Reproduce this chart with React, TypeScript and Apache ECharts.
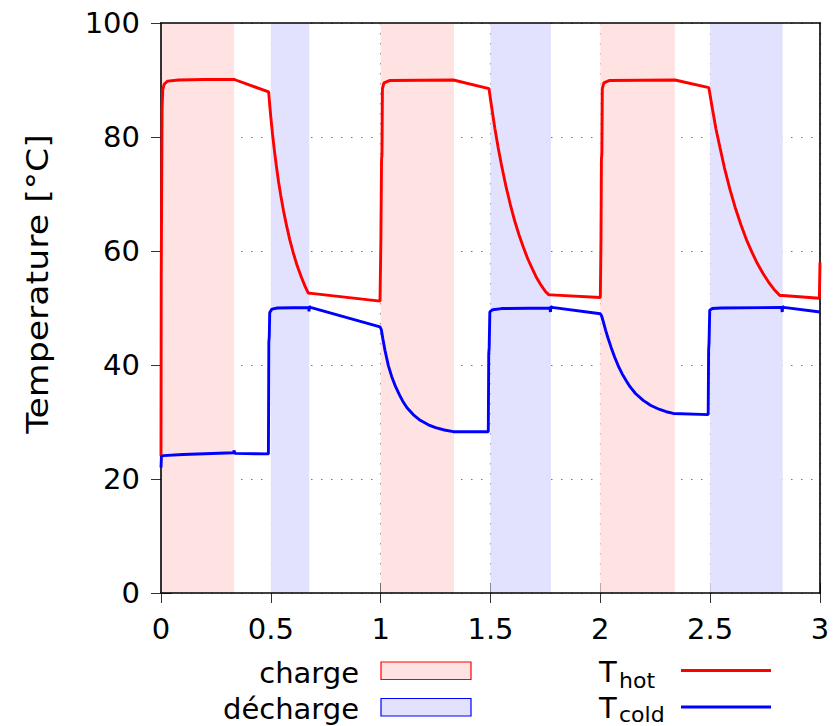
import React, { useEffect, useRef } from "react";
import * as echarts from "echarts";

// [time, temperature °C]
const hotPoints: [number, number][] = [
  [0, 24], [0.001, 55], [0.003, 70], [0.005, 85], [0.008, 88.3], [0.015, 89.3], [0.03, 89.8],
  [0.08, 90.0], [0.2, 90.1], [0.333, 90.1], [0.34, 90.0], [0.49, 87.9],
  [0.495, 85.6], [0.5, 83.5], [0.508, 80.4], [0.517, 77.4], [0.526, 74.7], [0.535, 72.2], [0.545, 69.8],
  [0.558, 67.0], [0.572, 64.4], [0.586, 62.0], [0.602, 59.7], [0.62, 57.4], [0.64, 55.3], [0.656, 53.8],
  [0.671, 52.55], [0.675, 52.6], [0.997, 51.2],
  [1.001, 62], [1.004, 76], [1.006, 77], [1.008, 88.5], [1.015, 89.5], [1.04, 89.9], [1.331, 90.0], [1.493, 88.5],
  [1.505, 85.3], [1.52, 81.5], [1.535, 78.1], [1.55, 75.1], [1.57, 71.4], [1.59, 68.2], [1.61, 65.3],
  [1.63, 62.8], [1.65, 60.6], [1.67, 58.6], [1.69, 56.9], [1.71, 55.3], [1.73, 54.0], [1.75, 52.9],
  [1.766, 52.3], [1.775, 52.3], [2.0, 51.85],
  [2.003, 62], [2.005, 76.2], [2.007, 77], [2.009, 88.5], [2.016, 89.5], [2.04, 89.9], [2.34, 90.0], [2.494, 88.65],
  [2.51, 85.0], [2.526, 81.5], [2.545, 78.1], [2.565, 74.6], [2.59, 70.8], [2.615, 67.5], [2.64, 64.6],
  [2.665, 62.0], [2.69, 59.8], [2.715, 57.8], [2.74, 56.1], [2.765, 54.6], [2.79, 53.3], [2.817, 52.2],
  [2.83, 52.2], [2.997, 51.7], [3.0, 58],
];

const coldPoints: [number, number][] = [
  [0, 22], [0.002, 23.9], [0.01, 24.1], [0.1, 24.3], [0.33, 24.6], [0.333, 25.0], [0.336, 24.5], [0.489, 24.4],
  [0.491, 44], [0.493, 45], [0.495, 49.2], [0.505, 49.8], [0.53, 50.0], [0.672, 50.1], [0.674, 49.4], [0.675, 50.3],
  [0.68, 50.1], [0.997, 46.7],
  [1.003, 46.2], [1.01, 44.6], [1.02, 42.5], [1.035, 39.9], [1.05, 38.0], [1.068, 36.2], [1.085, 34.8],
  [1.1, 33.7], [1.12, 32.5], [1.148, 31.3], [1.18, 30.3], [1.217, 29.5], [1.25, 29.0], [1.29, 28.6], [1.33, 28.3],
  [1.49, 28.3], [1.492, 42], [1.494, 43], [1.497, 49.3], [1.51, 49.7], [1.55, 49.9], [1.77, 50.0], [1.773, 49.3],
  [1.775, 50.3], [1.78, 50.1], [2.0, 49.0],
  [2.006, 48.6], [2.015, 47.4], [2.025, 46.0], [2.036, 44.6], [2.05, 43.0], [2.065, 41.4], [2.081, 39.9],
  [2.1, 38.4], [2.12, 37.1], [2.135, 36.2], [2.16, 35.0], [2.195, 33.8], [2.23, 32.9], [2.27, 32.2],
  [2.3, 31.8], [2.332, 31.5],
  [2.491, 31.3], [2.493, 42.6], [2.495, 44], [2.498, 49.6], [2.51, 49.9], [2.55, 50.0], [2.826, 50.1], [2.828, 49.3],
  [2.83, 50.3], [2.835, 50.1], [3.0, 49.3],
];

const chargeIntervals: [number, number][] = [[0, 0.333], [1.0, 1.334], [2.0, 2.339]];
const dechargeIntervals: [number, number][] = [[0.5, 0.675], [1.5, 1.775], [2.5, 2.83]];

const xTicks = { min: 0, max: 3, interval: 0.5 };
const yTicks = { min: 0, max: 100, interval: 20 };

const yTitle = "Temperature [°C]";
const legendBands = ["charge", "décharge"];

const FONT = "DejaVu Sans";
const FS = 29;
const LW = 2.9;

export default function App() {
  const ref = useRef<HTMLDivElement>(null);
  useEffect(() => {
    if (!ref.current) return;
    const chart = echarts.init(ref.current, undefined, { renderer: "svg" });
    const dotted = { color: "#777", width: 1.2, type: [1.5, 8.5] as number[] };
    const tick = { show: true, inside: true, length: 10, lineStyle: { color: "#333", width: 1 } };
    const border = { show: true, onZero: false, lineStyle: { color: "#000", width: 1.6 } };
    const none = { show: false };
    const label = { fontFamily: FONT, fontSize: FS, color: "#000" };

    const xBase = { type: "value" as const, ...xTicks };
    const yBase = { type: "value" as const, ...yTicks };

    const option: any = {
      animation: false,
      grid: { left: 161, right: 13, top: 23, bottom: 133 },
      xAxis: [
        { ...xBase, position: "bottom", z: 3, axisLine: border, axisTick: none, splitLine: none,
          axisLabel: { ...label, margin: 21 } },
        { ...xBase, position: "bottom", z: 0, axisLine: none, axisTick: tick, axisLabel: none,
          splitLine: { show: true, lineStyle: dotted } },
        { ...xBase, position: "top", z: 3, axisLine: border, axisTick: none, axisLabel: none, splitLine: none },
        { ...xBase, position: "top", z: 0, axisLine: none, axisTick: tick, axisLabel: none, splitLine: none },
      ],
      yAxis: [
        { ...yBase, position: "left", z: 3, axisLine: border, axisTick: none, splitLine: none,
          axisLabel: { ...label, margin: 21 } },
        { ...yBase, position: "left", z: 0, axisLine: none, axisTick: tick, axisLabel: none,
          splitLine: { show: true, lineStyle: dotted } },
        { ...yBase, position: "right", z: 3, axisLine: border, axisTick: none, axisLabel: none, splitLine: none },
        { ...yBase, position: "right", z: 0, axisLine: none, axisTick: tick, axisLabel: none, splitLine: none },
      ],
      series: [
        {
          name: legendBands[0], type: "line", data: [], z: 1, silent: true,
          markArea: {
            silent: true,
            itemStyle: { color: "#ffe2e2", borderWidth: 0 },
            data: chargeIntervals.map(([a, b]) => [{ xAxis: a, yAxis: yTicks.min }, { xAxis: b, yAxis: yTicks.max }]),
          },
        },
        {
          name: legendBands[1], type: "line", data: [], z: 1, silent: true,
          markArea: {
            silent: true,
            itemStyle: { color: "#e2e2ff", borderWidth: 0 },
            data: dechargeIntervals.map(([a, b]) => [{ xAxis: a, yAxis: yTicks.min }, { xAxis: b, yAxis: yTicks.max }]),
          },
        },
        {
          name: "Thot", type: "line", data: hotPoints, z: 4, showSymbol: false, symbol: "none",
          lineStyle: { color: "#ff0000", width: LW }, itemStyle: { color: "#ff0000" },
        },
        {
          name: "Tcold", type: "line", data: coldPoints, z: 4, showSymbol: false, symbol: "none",
          lineStyle: { color: "#0000ff", width: LW }, itemStyle: { color: "#0000ff" },
        },
      ],
      graphic: [
        { type: "text", x: 37, y: 284, rotation: Math.PI / 2, scaleX: 1.12,
          style: { text: yTitle, font: `31px '${FONT}'`, fill: "#000", align: "center", verticalAlign: "middle" } },

        { type: "text", x: 359, y: 672.5, style: { text: legendBands[0], font: `${FS}px '${FONT}'`, fill: "#000", align: "right", verticalAlign: "middle" } },
        { type: "rect", shape: { x: 381, y: 662, width: 90, height: 17.5 }, style: { fill: "#ffe2e2", stroke: "#ff0000", lineWidth: 1.2 } },
        { type: "text", x: 359, y: 709, style: { text: legendBands[1], font: `${FS}px '${FONT}'`, fill: "#000", align: "right", verticalAlign: "middle" } },
        { type: "rect", shape: { x: 381, y: 698.5, width: 90, height: 17.5 }, style: { fill: "#e2e2ff", stroke: "#0000ff", lineWidth: 1.2 } },

        { type: "text", x: 599, y: 672, style: { text: "T", font: `${FS}px '${FONT}'`, fill: "#000", align: "left", verticalAlign: "middle" } },
        { type: "text", x: 619, y: 680, style: { text: "hot", font: `22px '${FONT}'`, fill: "#000", align: "left", verticalAlign: "middle" } },
        { type: "line", shape: { x1: 681, y1: 670.5, x2: 771, y2: 670.5 }, style: { stroke: "#ff0000", lineWidth: LW } },
        { type: "text", x: 599, y: 707.5, style: { text: "T", font: `${FS}px '${FONT}'`, fill: "#000", align: "left", verticalAlign: "middle" } },
        { type: "text", x: 619, y: 714, style: { text: "cold", font: `22px '${FONT}'`, fill: "#000", align: "left", verticalAlign: "middle" } },
        { type: "line", shape: { x1: 681, y1: 707, x2: 771, y2: 707 }, style: { stroke: "#0000ff", lineWidth: LW } },
      ],
    };
    chart.setOption(option);
    return () => chart.dispose();
  }, []);
  return (
    <div
      ref={ref}
      style={{ position: "fixed", left: 0, top: 0, width: 833, height: 726, background: "#fff" }}
    />
  );
}
